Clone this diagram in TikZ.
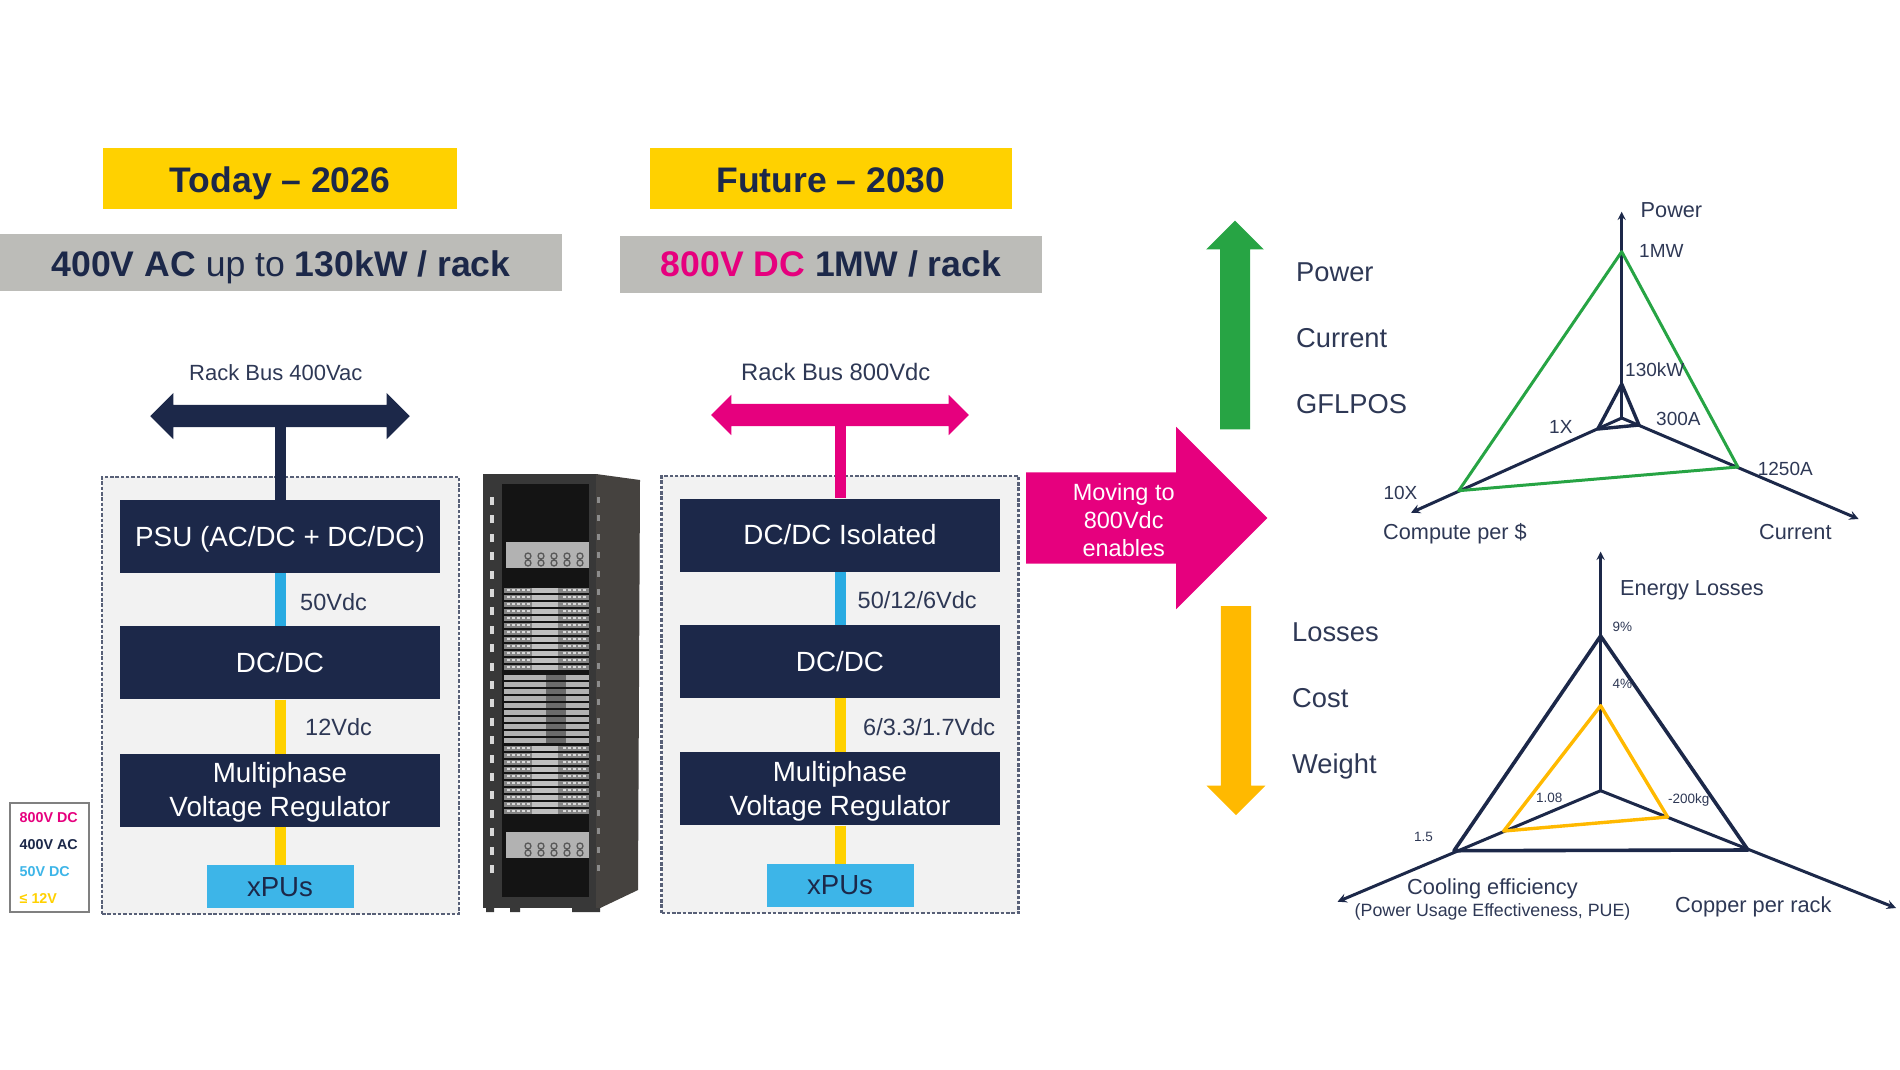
\documentclass[tikz,border=0pt]{standalone}
\usepackage{fontspec}
\setmainfont{Liberation Sans}
\usepackage{tikz}
\usetikzlibrary{positioning, shapes.arrows, arrows}
\usepackage{xcolor}
\definecolor{navy}{HTML}{1C2849}
\definecolor{inktxt}{HTML}{2E3855}
\definecolor{gold}{HTML}{FFD100}
\definecolor{band}{HTML}{BCBCB8}
\definecolor{panelbg}{HTML}{F2F2F2}
\definecolor{pink}{HTML}{E6007E}
\definecolor{sky}{HTML}{29ABE2}
\definecolor{xpu}{HTML}{3DB5E8}
\definecolor{leaf}{HTML}{27A444}
\definecolor{amber}{HTML}{FFB900}
\definecolor{racksteel}{HTML}{45423F}
\tikzstyle{axisline} = [navy,->,>=stealth]
\newcommand{\fsz}[1]{\fontsize{#1}{#1}\selectfont}

\begin{document}
\begin{tikzpicture}[
    x=1pt, y=-1pt,
    title/.style={fill=gold, text=navy, font=\fsz{35.5}\bfseries, text height=28pt, text depth=0pt, minimum width=#1, minimum height=61pt, inner sep=0pt},
    strip/.style={fill=band, text=navy, font=\fsz{35.6}, text height=28pt, text depth=0pt, minimum width=#1, minimum height=57pt, inner sep=0pt},
    panel/.style={draw=inktxt!80!white, fill=panelbg, line width=2.4pt, dash pattern=on 3.5pt off 1.8pt, minimum width=357pt, minimum height=437pt, inner sep=0pt},
    block/.style={fill=navy, text=white, font=\fontsize{27.8}{34}\selectfont, align=center, minimum width=320pt, minimum height=73pt, inner sep=0pt},
    xbox/.style={fill=xpu, text=navy, font=\fsz{27.6}, minimum width=147pt, minimum height=43pt, inner sep=0pt},
    lbl/.style={anchor=west, inner sep=0pt, text=inktxt, font=\fsz{#1}, text height=0.72*#1 pt, text depth=0pt},
    lbl/.default=21.7,
    wire/.style={line width=11pt, #1},
    keytxt/.style={anchor=west, inner sep=0pt, font=\fsz{14.3}\bfseries, text height=10pt, text depth=0pt, text=#1}
  ]

  \useasboundingbox (0,0) rectangle (1900,1069);

  \node[title=354pt] (yrA) at (280,178.5) {Today -- 2026};
  \node[title=362pt] (yrB) at (831,178.5) {Future -- 2030};
  \node[strip=562pt] (stA) at (281,262.5) {\textbf{400V AC} up to \textbf{130kW / rack}};
  \node[strip=422pt, text height=25.5pt] (stB) at (831,264) {\textcolor{pink}{\textbf{800V DC}} \textbf{1MW / rack}};

  \node[panel] (boxA) at (280.5,695.5) {};
  \node[panel] (boxB) at (840,694.5) {};

  \node[block, text height=20pt, text depth=0pt] (psuA) at (280,536.5) {PSU (AC/DC + DC/DC)};
  \node[block, below=53pt of psuA] (dcA) {DC/DC};
  \node[block, below=54pt of dcA] (vrA) {\rule{0pt}{25pt}Multiphase\\Voltage Regulator};
  \node[xbox, below=38pt of vrA] (xpuA) {xPUs};

  \node[block] (psuB) at (840,535) {DC/DC Isolated};
  \node[block, below=53pt of psuB] (dcB) {DC/DC};
  \node[block, below=54pt of dcB] (vrB) {\rule{0pt}{25pt}Multiphase\\Voltage Regulator};
  \node[xbox, below=38pt of vrB] (xpuB) {xPUs};

  \node[double arrow, double arrow head extend=12pt, fill=navy, minimum height=259.5pt, inner xsep=0pt, inner ysep=11pt] (busA) at (280,416) {};
  \node[double arrow, double arrow head extend=9pt, fill=pink, minimum height=257.6pt, inner xsep=0pt, inner ysep=11pt] (busB) at (840,415) {};

  \draw[wire=navy] (busA) -- (psuA);
  \draw[wire=sky] (psuA) -- (dcA);
  \draw[wire=gold] (dcA) -- (vrA);
  \draw[wire=gold] (vrA) -- (xpuA);

  \draw[wire=pink] (busB) -- (psuB);
  \draw[wire=sky] (psuB) -- (dcB);
  \draw[wire=gold] (dcB) -- (vrB);
  \draw[wire=gold] (vrB) -- (xpuB);

  \node[lbl=22] (busTxtA) at (189,373) {Rack Bus 400Vac};
  \node[lbl=23.8] (busTxtB) at (741,372) {Rack Bus 800Vdc};
  \node[lbl=23.5] (vA) at (300,602) {50Vdc};
  \node[lbl=23.5] (vB) at (305,727) {12Vdc};
  \node[lbl=23.5] (vC) at (857.5,600) {50/12/6Vdc};
  \node[lbl=23.5] (vD) at (863,727) {6/3.3/1.7Vdc};

  % legend
  \node[draw=gray, line width=1.4pt, fill=white, minimum width=79pt, minimum height=109pt, inner sep=0pt] (key) at (49.5,857.5) {};
  \node[keytxt=pink] (keyA) at (19.5,817) {800V DC};
  \node[keytxt=navy] (keyB) at (19.5,844) {400V AC};
  \node[keytxt=xpu] (keyC) at (19.5,871) {50V DC};
  \node[keytxt=gold] (keyD) at (19.5,898) {≤ 12V};

  % rack
  \fill[racksteel] (596,474) -- (640,480) -- (638,890) -- (596,910) -- cycle;
  \fill[black!78!white] (483,474) rectangle (596,908);
  \fill[black!92!white] (502,484) rectangle (589,897);
  \fill[black!78!white] (486,908) rectangle (494,912) (510,908) rectangle (520,912) (572,908) rectangle (600,912);
  \foreach \i in {0,...,20} {
    \fill[black!15!white] (490,497+18.4*\i) rectangle (494,505+18.4*\i);
    \fill[black!45!white] (597,497+18.4*\i) rectangle (600,503+18.4*\i);
  }
  \foreach \ya in {542,832} {
    \fill[black!30!white] (506,\ya) rectangle (589,\ya+26);
    \foreach \k in {0,...,4} {
      \draw[black!65!white, line width=1.3pt] (528+13*\k,\ya+14) circle (3pt) (528+13*\k,\ya+21) circle (3pt);
    }
  }
  \foreach \yb in {588,595,...,666} {
    \fill[black!48!white] (504,\yb) rectangle (589,\yb+5);
    \fill[black!25!white] (532,\yb) rectangle (558,\yb+5);
    \foreach \k in {0,...,4} {
      \fill[black!15!white] (507+5*\k,\yb+1) rectangle (510+5*\k,\yb+3);
      \fill[black!15!white] (563+5*\k,\yb+1) rectangle (566+5*\k,\yb+3);
    }
  }
  \foreach \yb in {675,682,...,738} {
    \fill[black!30!white] (504,\yb) rectangle (589,\yb+5);
    \fill[black!58!white] (546,\yb) rectangle (566,\yb+5);
  }
  \foreach \yb in {746,753,...,809} {
    \fill[black!48!white] (504,\yb) rectangle (589,\yb+5);
    \fill[black!25!white] (532,\yb) rectangle (558,\yb+5);
    \foreach \k in {0,...,4} {
      \fill[black!15!white] (507+5*\k,\yb+1) rectangle (510+5*\k,\yb+3);
      \fill[black!15!white] (563+5*\k,\yb+1) rectangle (566+5*\k,\yb+3);
    }
  }

  % big arrows
  \node[single arrow, single arrow head extend=45.5pt, fill=pink, minimum height=241.3pt, inner xsep=0pt, inner ysep=45.5pt] (go) at (1123.85,518) {};
  \node[align=center, text=white, inner sep=0pt, font=\fontsize{23.5}{28}\selectfont] (goTxt) at (1123.7,520) {Moving to\\800Vdc\\enables};
  \node[single arrow, shape border rotate=90, single arrow head extend=13.9pt, fill=leaf, minimum height=208.7pt, inner ysep=0pt, inner xsep=14.8pt] (up) at (1235,332.4) {};
  \node[single arrow, shape border rotate=270, single arrow head extend=14.2pt, fill=amber, minimum height=209pt, inner ysep=0pt, inner xsep=15pt] (down) at (1236,703) {};

  \node[lbl=27.3] (upA) at (1296,272) {Power};
  \node[lbl=27.3] (upB) at (1296,338) {Current};
  \node[lbl=27.3] (upC) at (1296,404) {GFLPOS};
  \node[lbl=27.3] (dnA) at (1292,632) {Losses};
  \node[lbl=27.3] (dnB) at (1292,698) {Cost};
  \node[lbl=27.3] (dnC) at (1292,764) {Weight};

  % upper radar
  \coordinate (pC) at (1621.7,418);
  \coordinate (pT) at (1621.7,211.7);
  \coordinate (pL) at (1411,512.7);
  \coordinate (pR) at (1858.6,519);
  \draw[axisline, line width=2.6pt] (pC) -- (pT);
  \draw[axisline, line width=3pt] (pC) -- (pL);
  \draw[axisline, line width=3pt] (pC) -- (pR);
  \coordinate (gT) at (1621.7,251.7);
  \coordinate (gL) at (1458.7,490.7);
  \coordinate (gR) at (1737.9,467);
  \draw[leaf, line width=3pt, line join=round] (gT) -- (gL) -- (gR) -- cycle;
  \coordinate (iT) at (1621.7,384);
  \coordinate (iL) at (1597.8,429);
  \coordinate (iR) at (1639,425);
  \draw[navy, line width=3.4pt, line join=round] (iT) -- (iL) -- (iR) -- cycle;

  \node[lbl] (pwr) at (1640.5,210) {Power};
  \node[lbl=19] (valA) at (1639,251) {1MW};
  \node[lbl=19] (valB) at (1625,370) {130kW};
  \node[lbl=19] (valC) at (1656,419) {300A};
  \node[lbl=19] (valD) at (1549,427) {1X};
  \node[lbl=19] (valE) at (1757.6,469) {1250A};
  \node[lbl=19] (valF) at (1383.4,493) {10X};
  \node[lbl] (cmp) at (1383,532) {Compute per \$};
  \node[lbl] (cur) at (1759,532) {Current};

  % lower radar
  \coordinate (qC) at (1600.6,790.7);
  \coordinate (qT) at (1600.6,551.7);
  \coordinate (qL) at (1337.5,901.7);
  \coordinate (qR) at (1896,908);
  \draw[axisline, line width=2.6pt] (qC) -- (qT);
  \draw[axisline, line width=3pt] (qC) -- (qL);
  \draw[axisline, line width=3pt] (qC) -- (qR);
  \coordinate (nT) at (1600.6,636);
  \coordinate (nL) at (1454,850.7);
  \coordinate (nR) at (1748,850);
  \draw[navy, line width=3.6pt, line join=round] (nT) -- (nL) -- (nR) -- cycle;
  \coordinate (aT) at (1600.6,705.7);
  \coordinate (aL) at (1503.7,831);
  \coordinate (aR) at (1667.6,817);
  \draw[amber, line width=3.4pt, line join=round] (aT) -- (aL) -- (aR) -- cycle;

  \node[lbl] (elo) at (1620,588) {Energy Losses};
  \node[lbl=13.5] (lvA) at (1612.5,627) {9\%};
  \node[lbl=13.5] (lvB) at (1612.5,684) {4\%};
  \node[lbl=13.5] (lvC) at (1536,798) {1.08};
  \node[lbl=13.5] (lvD) at (1668,799) {-200kg};
  \node[lbl=13.5] (lvE) at (1414,837) {1.5};
  \node[lbl=21.8] (clA) at (1407,887) {Cooling efficiency};
  \node[lbl=17.8] (clB) at (1354.5,910) {(Power Usage Effectiveness, PUE)};
  \node[lbl=21.8] (cop) at (1675,905) {Copper per rack};

\end{tikzpicture}
\end{document}
